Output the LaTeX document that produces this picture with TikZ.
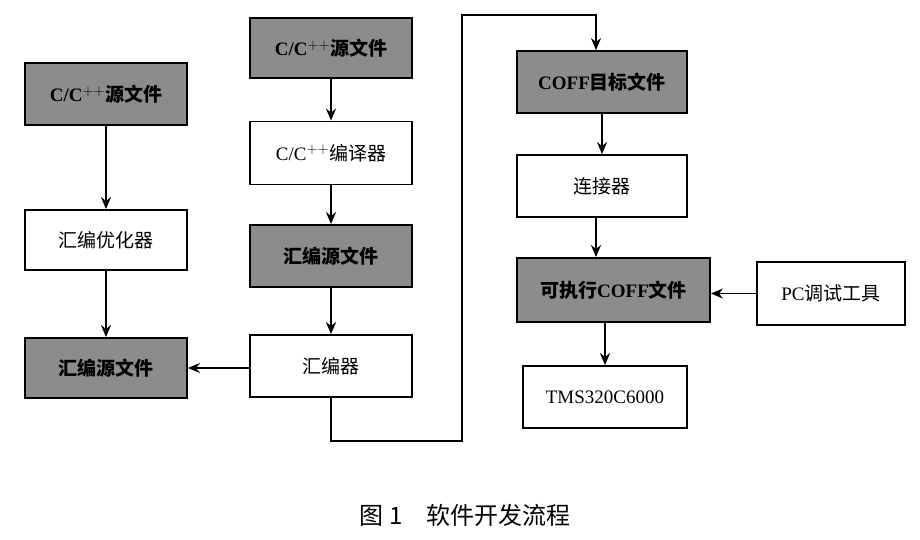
\documentclass[tikz,border=0pt]{standalone}
\usepackage{fontspec}
\setmainfont{Liberation Serif}
\newfontfamily\cjk{Noto Sans CJK SC}
\usetikzlibrary{arrows.meta}
\begin{document}
\begin{tikzpicture}[x=1pt,y=-1pt,
 box/.style={draw,line width=1.8pt,minimum width=#1pt,inner sep=0pt,font=\fontsize{19}{22}\selectfont},
 box/.default=162,
 g/.style={fill=black!45,font=\fontsize{19}{22}\selectfont\bfseries},
 arr/.style={-{Stealth[length=12pt,width=10pt]},line width=1.8pt}]
\useasboundingbox (0,0) rectangle (920,540);
\node[box,g,minimum height=62pt] (l1) at (106,94) {C/C$^{++}${\cjk 源文件}};
\node[box,minimum height=60pt] (l2) at (106,240) {\cjk 汇编优化器};
\node[box,g,minimum height=60pt] (l3) at (106,368) {\cjk 汇编源文件};
\node[box,g,minimum height=60pt] (m1) at (331,48) {C/C$^{++}${\cjk 源文件}};
\node[box,minimum height=63pt] (m2) at (331,153) {C/C$^{++}${\cjk 编译器}};
\node[box,g,minimum height=62pt] (m3) at (331,256) {\cjk 汇编源文件};
\node[box,minimum height=62pt] (m4) at (331,366) {\cjk 汇编器};
\node[box=170,g,minimum height=62pt] (r1) at (602,82) {COFF{\cjk 目标文件}};
\node[box=170,minimum height=62pt] (r2) at (602,186) {\cjk 连接器};
\node[box=193,g,minimum height=64pt] (r3) at (613.5,290) {{\cjk 可执行}COFF{\cjk 文件}};
\node[box=148,minimum height=63pt] (pc) at (831,293.5) {PC{\cjk 调试工具}};
\node[box=164,minimum height=62pt] (t) at (605,397) {TMS320C6000};
\node[font=\fontsize{24}{26}\selectfont\cjk] (cap) at (465,515) {图 1\quad 软件开发流程};
\draw[arr] (l1) -- (l2);
\draw[arr] (l2) -- (l3);
\draw[arr] (m1) -- (m2);
\draw[arr] (m2) -- (m3);
\draw[arr] (m3) -- (m4);
\draw[arr] (m4.west |- 0,368) -- (l3.east);
\draw[arr] (m4.south) |- (462,441) |- (596,15) -- (r1.north -| 596,0);
\draw[arr] (r1) -- (r2);
\draw[arr] (r2.south -| 596,0) -- (r3.north -| 596,0);
\draw[arr] (pc.west) -- (r3.east |- pc.west);
\draw[arr] (r3.south -| 605,0) -- (t.north);
\end{tikzpicture}
\end{document}
